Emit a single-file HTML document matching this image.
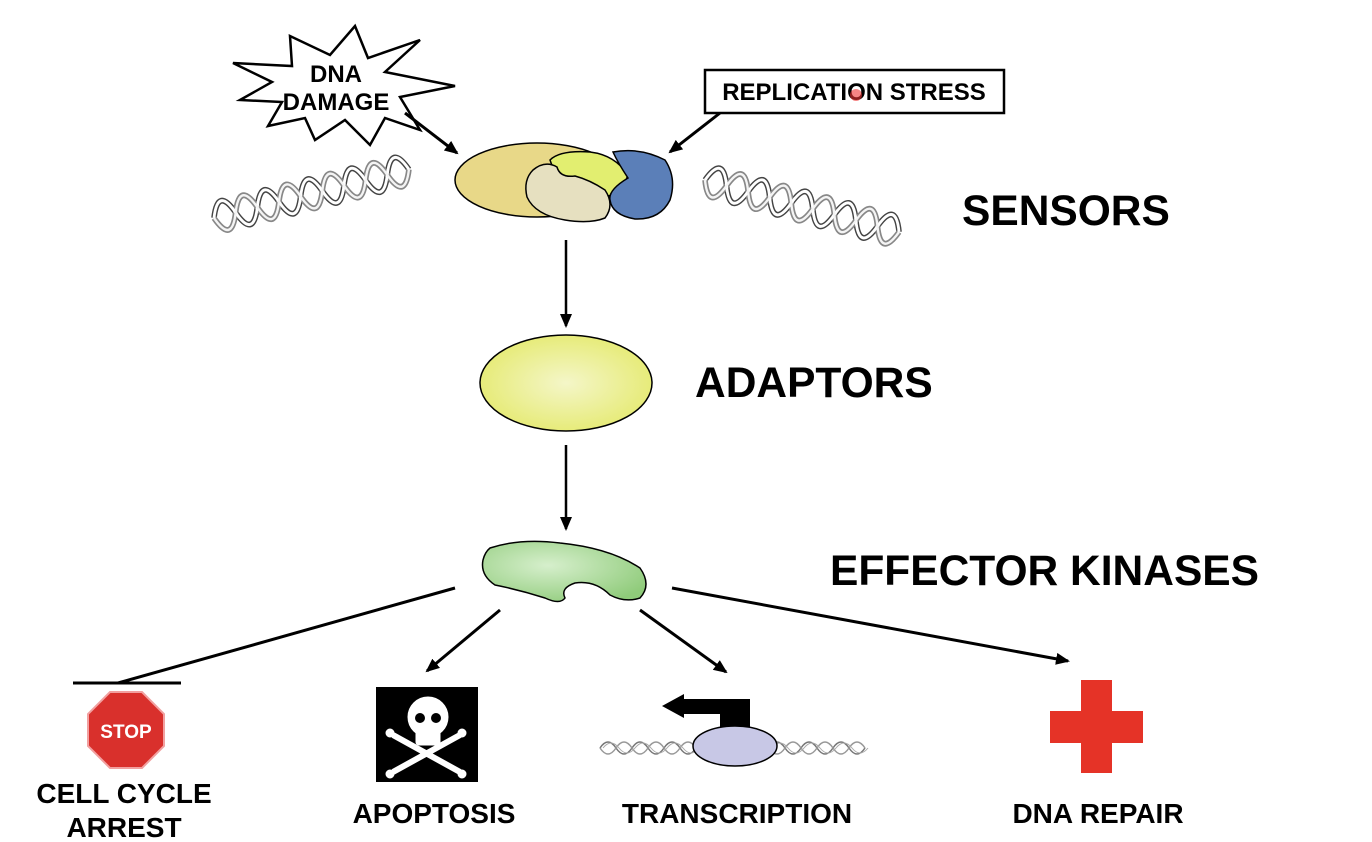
<!DOCTYPE html>
<html><head><meta charset="utf-8"><style>
html,body{margin:0;padding:0;background:#fff}
svg{display:block}
text{font-family:"Liberation Sans",Arial,sans-serif;font-weight:bold;fill:#000}
</style></head><body>
<svg width="1372" height="842" viewBox="0 0 1372 842" xmlns="http://www.w3.org/2000/svg">
<defs>
<marker id="ah" markerWidth="14" markerHeight="12" refX="12" refY="6" orient="auto" markerUnits="userSpaceOnUse">
<path d="M0,0 L14,6 L0,12 Z" fill="#000"/></marker>
<radialGradient id="gy" cx="50%" cy="50%" r="60%"><stop offset="0" stop-color="#f4f6c8"/><stop offset="1" stop-color="#e4e96a"/></radialGradient>
<radialGradient id="gg" cx="40%" cy="40%" r="70%"><stop offset="0" stop-color="#d6efcc"/><stop offset="1" stop-color="#8fcb7a"/></radialGradient>
<g id="helix">
<path d="M0,0 q12,-30 24,0 t24,0 t24,0 t24,0 t24,0 t24,0 t24,0 t24,0 t24,0" fill="none" stroke="#444" stroke-width="6"/>
<path d="M0,0 q12,30 24,0 t24,0 t24,0 t24,0 t24,0 t24,0 t24,0 t24,0 t24,0" fill="none" stroke="#888" stroke-width="6"/>
<path d="M0,0 q12,-30 24,0 t24,0 t24,0 t24,0 t24,0 t24,0 t24,0 t24,0 t24,0" fill="none" stroke="#fff" stroke-width="3"/>
<path d="M0,0 q12,30 24,0 t24,0 t24,0 t24,0 t24,0 t24,0 t24,0 t24,0 t24,0" fill="none" stroke="#f4f4f4" stroke-width="2.5"/>
</g>
<g id="helix2">
<path d="M0,0 q8,-12 16,0 t16,0 t16,0 t16,0 t16,0 t16,0 t16,0 t16,0" fill="none" stroke="#777" stroke-width="1.5"/>
<path d="M0,0 q8,12 16,0 t16,0 t16,0 t16,0 t16,0 t16,0 t16,0 t16,0" fill="none" stroke="#999" stroke-width="1.5"/>
<path d="M3,0 q8,-10 16,0 t16,0 t16,0 t16,0 t16,0 t16,0 t16,0 t16,0" fill="none" stroke="#aaa" stroke-width="1"/>
</g>
</defs>

<polygon points="233,63 292,66 290,36 330,55 355,26 368,58 420,40 385,72 455,86 400,97 420,130 385,118 370,145 345,120 315,140 305,118 268,126 282,102 240,100 272,82" fill="#fff" stroke="#000" stroke-width="2.5"/>
<text x="336" y="82" font-size="24" text-anchor="middle">DNA</text>
<text x="336" y="110" font-size="24" text-anchor="middle">DAMAGE</text>
<line x1="405" y1="113" x2="457" y2="153" stroke="#000" stroke-width="3" marker-end="url(#ah)"/>

<rect x="705" y="70" width="299" height="43" fill="#fff" stroke="#000" stroke-width="2.5"/>
<text x="854" y="100" font-size="24" text-anchor="middle">REPLICATION STRESS</text>
<circle cx="856" cy="95" r="6" fill="#e33" opacity="0.6"/>
<line x1="720" y1="113" x2="670" y2="152" stroke="#000" stroke-width="3" marker-end="url(#ah)"/>

<g transform="translate(214,218) rotate(-14) scale(0.93,1)"><use href="#helix"/></g>
<g transform="translate(705,180) rotate(15) scale(0.93,1)"><use href="#helix"/></g>

<ellipse cx="537" cy="180" rx="82" ry="37" fill="#e8d888" stroke="#000" stroke-width="1.5"/>
<path d="M550,160 Q560,150 590,152 Q615,155 628,175 L622,190 Q605,200 595,195 Q585,180 565,182 Q555,175 550,160 Z" fill="#e2ee70" stroke="#000" stroke-width="1.5"/>
<path d="M613,152 Q640,147 665,160 Q677,178 670,200 Q660,220 635,219 Q612,215 610,200 Q608,190 628,178 Q618,163 613,152 Z" fill="#5b7fb8" stroke="#000" stroke-width="1.5"/>
<path d="M533,170 Q545,160 557,167 Q560,178 575,176 Q590,180 605,190 Q615,205 605,218 Q590,224 565,220 Q535,215 527,197 Q523,180 533,170 Z" fill="#e6e0c0" stroke="#000" stroke-width="1.5"/>

<text x="962" y="225" font-size="42.5">SENSORS</text>
<line x1="566" y1="240" x2="566" y2="326" stroke="#000" stroke-width="2.5" marker-end="url(#ah)"/>

<ellipse cx="566" cy="383" rx="86" ry="48" fill="url(#gy)" stroke="#000" stroke-width="1.5"/>
<text x="695" y="397" font-size="42.5">ADAPTORS</text>
<line x1="566" y1="445" x2="566" y2="529" stroke="#000" stroke-width="2.5" marker-end="url(#ah)"/>

<path d="M490,548 Q520,538 560,543 Q610,548 640,568 Q652,585 640,598 Q625,603 610,595 Q595,580 575,583 Q560,588 565,598 Q560,605 545,598 Q520,590 495,585 Q480,575 483,560 Q485,552 490,548 Z" fill="url(#gg)" stroke="#000" stroke-width="1.5"/>
<text x="830" y="585" font-size="42.5">EFFECTOR KINASES</text>

<line x1="455" y1="588" x2="118" y2="683" stroke="#000" stroke-width="3"/>
<line x1="73" y1="683" x2="181" y2="683" stroke="#000" stroke-width="3"/>
<line x1="500" y1="610" x2="427" y2="671" stroke="#000" stroke-width="3" marker-end="url(#ah)"/>
<line x1="640" y1="610" x2="726" y2="672" stroke="#000" stroke-width="3" marker-end="url(#ah)"/>
<line x1="672" y1="588" x2="1068" y2="661" stroke="#000" stroke-width="3" marker-end="url(#ah)"/>

<polygon points="110,692 142,692 164,714 164,746 142,768 110,768 88,746 88,714" fill="#d9302c" stroke="#f2a0a0" stroke-width="2"/>
<text x="126" y="738" font-size="19" text-anchor="middle" style="fill:#fff">STOP</text>

<rect x="376" y="687" width="102" height="95" fill="#000"/>
<g fill="#fff" stroke="#fff">
<line x1="393" y1="735" x2="460" y2="772" stroke-width="6"/>
<line x1="460" y1="735" x2="393" y2="772" stroke-width="6"/>
<circle cx="390" cy="733" r="4"/><circle cx="462" cy="733" r="4"/><circle cx="390" cy="774" r="4"/><circle cx="462" cy="774" r="4"/>
<ellipse cx="428" cy="717" rx="20" ry="20"/>
<rect x="416" y="728" width="24" height="17" rx="3"/>
</g>
<ellipse cx="420" cy="718" rx="5" ry="5" fill="#000"/><ellipse cx="436" cy="718" rx="5" ry="5" fill="#000"/>

<g transform="translate(600,748)"><use href="#helix2"/></g>
<g transform="translate(737,748)"><use href="#helix2"/></g>
<polygon points="662,706 684,694 684,699 750,699 750,730 720,730 720,714 684,714 684,718" fill="#000"/>
<ellipse cx="735" cy="746" rx="42" ry="20" fill="#c8c8e6" stroke="#000" stroke-width="1.5"/>

<path d="M1081,680 H1112 V711 H1143 V743 H1112 V773 H1081 V743 H1050 V711 H1081 Z" fill="#e53327"/>

<text x="124" y="803" font-size="28" text-anchor="middle">CELL CYCLE</text>
<text x="124" y="837" font-size="28" text-anchor="middle">ARREST</text>
<text x="434" y="823" font-size="28" text-anchor="middle">APOPTOSIS</text>
<text x="737" y="823" font-size="28" text-anchor="middle">TRANSCRIPTION</text>
<text x="1098" y="823" font-size="28" text-anchor="middle">DNA REPAIR</text>
</svg>
</body></html>
